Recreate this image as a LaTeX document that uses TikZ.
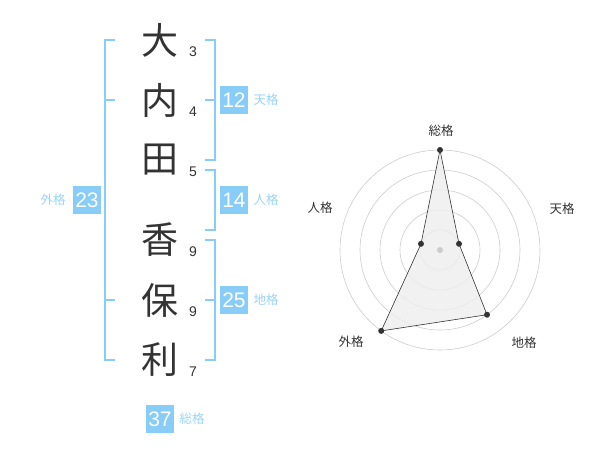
\documentclass[tikz,border=0pt]{standalone}
\usepackage{fontspec}
\setmainfont{Liberation Sans}
\newfontfamily\jpfont{Noto Sans CJK JP}
\usetikzlibrary{positioning}

\definecolor{skyline}{HTML}{88CCF8}
\definecolor{skytext}{HTML}{99D3F5}
\definecolor{inkgray}{HTML}{333333}
\definecolor{ringgray}{HTML}{CCCCCC}
\definecolor{areagray}{HTML}{EEEEEE}

\begin{document}
\begin{tikzpicture}[
    x=1pt, y=-1pt,
    node distance=60pt,
    on grid,
    kanji/.style={font=\jpfont\fontsize{37}{37}\selectfont, text=inkgray, inner sep=0pt},
    strokes/.style={font=\fontsize{14}{14}\selectfont, text=inkgray, inner sep=0pt},
    score/.style={fill=skyline, text=white, minimum size=28pt, inner sep=0pt, font=\fontsize{21}{21}\selectfont},
    kaku/.style={font=\jpfont\fontsize{12.5}{12.5}\selectfont, text=skytext, inner sep=0pt},
    axislabel/.style={font=\jpfont\fontsize{12.5}{12.5}\selectfont, text=inkgray, inner sep=0pt},
    bracket/.style={draw=skyline, line width=2pt},
    ring/.style={draw=ringgray, line width=0.6pt},
    vertex/.style={circle, fill=inkgray, inner sep=0pt, minimum size=6pt}
]
    \useasboundingbox (0,0) rectangle (600,470);

    % name column
    \node[kanji] (k1) at (160,40) {大};
    \node[kanji] (k2) [below=of k1] {内};
    \node[kanji] (k3) [below=of k2] {田};
    \node[kanji] (k4) [below=80pt of k3] {香};
    \node[kanji] (k5) [below=of k4] {保};
    \node[kanji] (k6) [below=of k5] {利};

    \foreach \k/\n in {k1/3, k2/4, k3/5, k4/9, k5/9, k6/7}
        \node[strokes] (s\k) [below right=12pt and 33pt of \k] {\n};

    % brackets
    \draw[bracket] (115,40) -- (105,40) -- (105,360) -- (115,360);
    \draw[bracket] (105,100) -- (115,100) (105,300) -- (115,300);
    \draw[bracket] (205,40) -- (215,40) -- (215,160) -- (205,160);
    \draw[bracket] (205,100) -- (215,100);
    \draw[bracket] (205,170) -- (215,170) -- (215,230) -- (205,230);
    \draw[bracket] (205,240) -- (215,240) -- (215,360) -- (205,360);
    \draw[bracket] (205,300) -- (215,300);

    % scores
    \node[score] (ten) [right=74pt of k2] {12};
    \node[score] (jin) at (234,200) {14};
    \node[score] (chi) [right=74pt of k5] {25};
    \node[score] (gai) at (87,200) {23};
    \node[score] (so) [below=59pt of k6] {37};

    \node[kaku] [right=32pt of ten] {天格};
    \node[kaku] [right=32pt of jin] {人格};
    \node[kaku] [right=32pt of chi] {地格};
    \node[kaku] [left=34pt of gai] {外格};
    \node[kaku] [right=32pt of so] {総格};

    % radar chart
    \begin{scope}[shift={(440,250)}, yscale=-1]
        \foreach \r in {20,40,60,80,100}
            \draw[ring] (0,0) circle (\r);
        \coordinate (pso) at (90:100);
        \coordinate (pten) at (18:20);
        \coordinate (pchi) at (-54:80);
        \coordinate (pgai) at (-126:100);
        \coordinate (pjin) at (162:20);
        \draw[fill=areagray, fill opacity=0.85, draw=inkgray, line width=0.6pt]
            (pso) -- (pten) -- (pchi) -- (pgai) -- (pjin) -- cycle;
        \node[circle, fill=ringgray, inner sep=0pt, minimum size=6pt] (hub) at (0,0) {};
        \foreach \p in {pso, pten, pchi, pgai, pjin}
            \node[vertex] at (\p) {};

        \node[axislabel] (lso) at (1,119) {総格};
        \node[axislabel] (lten) at (122,41) {天格};
        \node[axislabel] (ljin) at (-120,42) {人格};
        \node[axislabel] (lgai) at (-89,-92) {外格};
        \node[axislabel] (lchi) at (84,-93) {地格};
    \end{scope}
\end{tikzpicture}
\end{document}
